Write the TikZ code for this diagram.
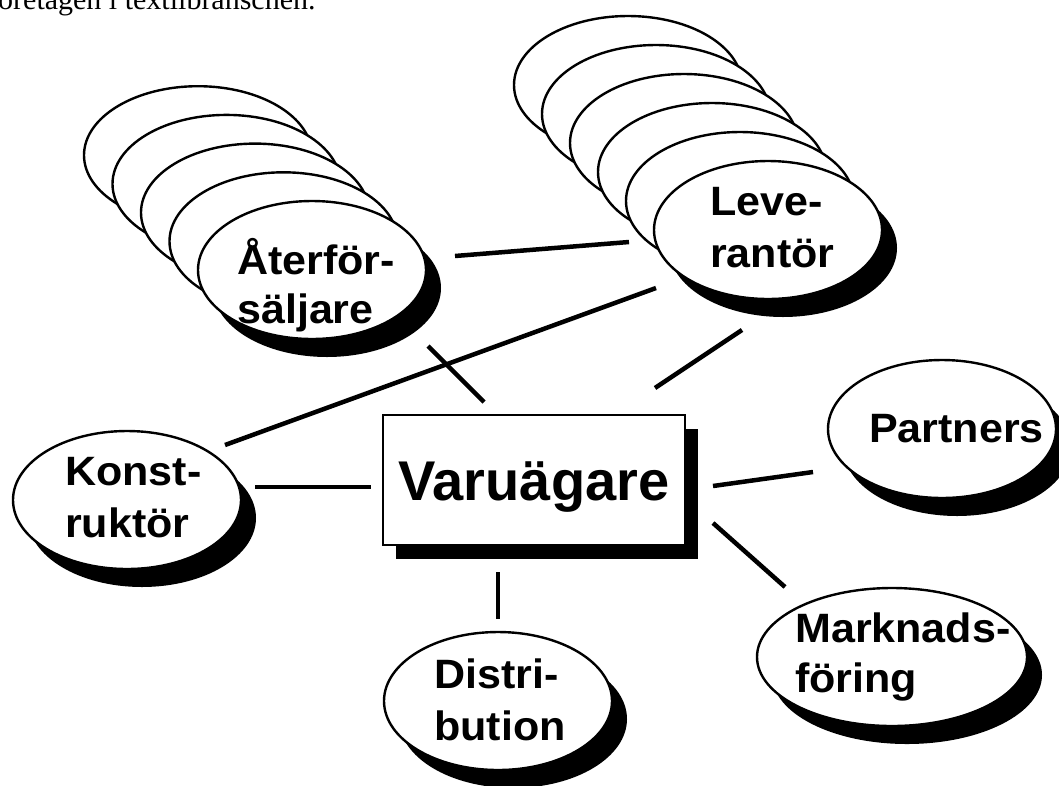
\documentclass[tikz,border=0pt]{standalone}
\usepackage{fontspec}
\setmainfont{Liberation Serif}
\newfontfamily\lblfont{Liberation Sans}
\newfontfamily\lblwide{Liberation Sans}[FakeStretch=1.05]
\usetikzlibrary{shapes.geometric,shadows}

\newcommand\lblsize{\lblwide\bfseries\fontsize{41}{52}\selectfont}
\newcommand\boxsize{\lblfont\bfseries\fontsize{56}{64}\selectfont}

\tikzset{
  bubble/.style={ellipse, draw=black, line width=2.4pt, fill=white,
    minimum width=228pt, minimum height=138pt, inner sep=0pt},
  shadowed/.style={drop shadow={shadow xshift=15pt, shadow yshift=-18pt,
    fill=black, opacity=1}},
  boxshadow/.style={drop shadow={shadow xshift=13pt, shadow yshift=-14pt,
    fill=black, opacity=1}},
  lbl/.style={font=\lblsize, align=left, anchor=base west, inner sep=0pt},
  link/.style={line width=4.5pt, line cap=butt},
}

\begin{document}
\begin{tikzpicture}[x=1pt,y=-1pt]
\useasboundingbox (0,0) rectangle (1059,785);

% caption line running off the top edge
\node[anchor=base west, inner sep=0pt, font=\fontsize{30}{36}\selectfont] (hdr) at (-12,9) {företagen i textilbranschen.};

% stacked suppliers
\foreach \k in {5,4,3,2,1}
  \node[bubble] (levback\k) at ({768-28*\k},{230-29*\k}) {};
\node[bubble, shadowed] (lev) at (768,230) {};

% stacked retailers
\foreach \k in {4,3,2,1}
  \node[bubble] (aterback\k) at ({312-28.5*\k},{270-28.7*\k}) {};
\node[bubble, shadowed] (ater) at (312,270) {};

% single bubbles
\node[bubble, shadowed] (konst) at (127,500) {};
\node[bubble, shadowed] (distr) at (498,701) {};
\node[bubble, shadowed] (partn) at (942,429) {};
\node[bubble, shadowed, minimum width=270pt] (markn) at (892,657) {};

% central box
\node[draw=black, line width=2.5pt, fill=white, boxshadow,
      minimum width=302pt, minimum height=130pt, inner sep=0pt] (var) at (534,480) {};

% connector end points
\coordinate (a1) at (455,256);   \coordinate (a2) at (629,242);
\coordinate (b1) at (225,445);   \coordinate (b2) at (656,288);
\coordinate (c1) at (428,346);   \coordinate (c2) at (484,402);
\coordinate (d1) at (655,388);   \coordinate (d2) at (742,330);
\coordinate (e1) at (255,487);   \coordinate (e2) at (371,487);
\coordinate (f1) at (713,486);   \coordinate (f2) at (813,472);
\coordinate (g1) at (713,523);   \coordinate (g2) at (785,587);
\coordinate (h1) at (498,572);   \coordinate (h2) at (498,619);

\draw[link] (a1) -- (a2);
\draw[link] (b1) -- (b2);
\draw[link] (c1) -- (c2);
\draw[link] (d1) -- (d2);
\draw[link] (e1) -- (e2);
\draw[link] (f1) -- (f2);
\draw[link] (g1) -- (g2);
\draw[link] (h1) -- (h2);

% labels (anchored at the baseline of the last line)
\node[lbl] (tater) at (237,323) {Återför-\\[-3pt]säljare};
\node[lbl] (tlev) at (710,267) {Leve-\\rantör};
\node[lbl] (tkonst) at (65,537) {Konst-\\ruktör};
\node[lbl] (tdistr) at (434,740) {Distri-\\bution};
\node[lbl] (tpartn) at (869,442) {Partners};
\node[lbl] (tmarkn) at (795,692) {Marknads-\\[-2pt]föring};
\node[anchor=base, inner sep=0pt, font=\boxsize] (tvar) at (534,500) {Varuägare};
\end{tikzpicture}
\end{document}
